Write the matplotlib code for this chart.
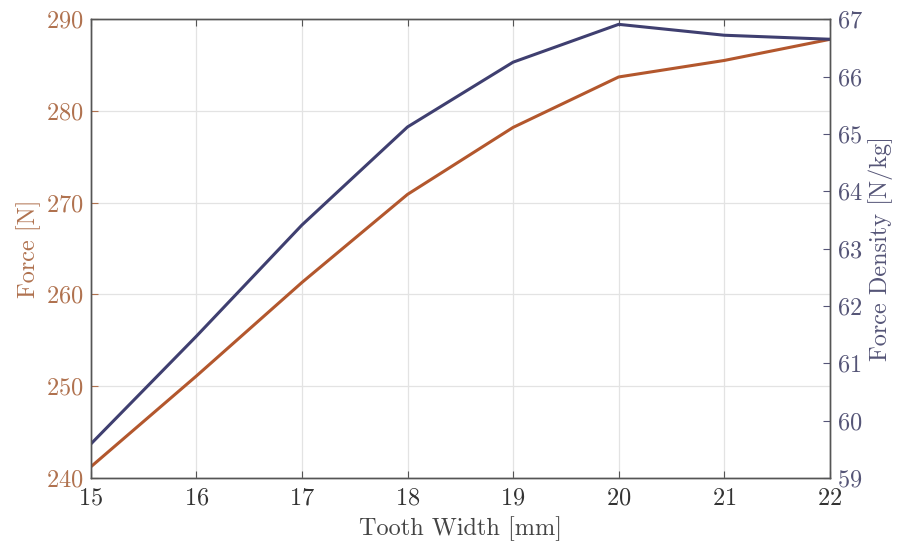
import matplotlib
matplotlib.use("Agg")
import matplotlib.pyplot as plt

plt.rcParams["font.family"] = "cmr10"
plt.rcParams["mathtext.fontset"] = "cm"
plt.rcParams["axes.formatter.use_mathtext"] = True

tooth_width = [15, 16, 17, 18, 19, 20, 21, 22]
force = [241.2, 251.1, 261.3, 270.9, 278.2, 283.7, 285.5, 287.8]
force_density = [59.59, 61.47, 63.41, 65.12, 66.25, 66.91, 66.72, 66.65]

c_force = "#b3572d"
c_dens = "#3f3f70"
c_force_txt = "#b0724f"
c_dens_txt = "#555577"

fig = plt.figure(figsize=(8.99, 5.48), dpi=100)
ax = fig.add_axes([0.101, 0.128, 0.822, 0.837])
ax2 = ax.twinx()

ax.plot(tooth_width, force, color=c_force, lw=2.2)
ax2.plot(tooth_width, force_density, color=c_dens, lw=2.2)

ax.set_xlim(15, 22)
ax.set_ylim(240, 290)
ax2.set_ylim(59, 67)
ax.set_xticks(tooth_width)
ax.set_yticks(range(240, 291, 10))
ax2.set_yticks(range(59, 68))

ax.grid(True, color="#e3e3e3", lw=0.9)
ax.set_axisbelow(True)

ax.tick_params(axis="x", direction="in", top=True, labelsize=17.5,
               labelcolor="#333333", color="#555555", length=5, pad=7)
ax.tick_params(axis="y", direction="in", labelsize=17.5,
               colors=c_force_txt, length=5, pad=5)
ax2.tick_params(axis="y", direction="in", labelsize=17.5,
                colors=c_dens_txt, length=5, pad=5)

for a in (ax, ax2):
    for s in a.spines.values():
        s.set_color("#555555")
        s.set_linewidth(1.0)

ax.set_xlabel("Tooth Width [mm]", fontsize=17.5, color="#444444", labelpad=5)
ax.set_ylabel("Force [N]", fontsize=17.5, color=c_force_txt, labelpad=4)
ax2.set_ylabel("Force Density [N/kg]", fontsize=17.5, color=c_dens_txt, labelpad=4)

fig.savefig("out.png", dpi=100, facecolor="white")
